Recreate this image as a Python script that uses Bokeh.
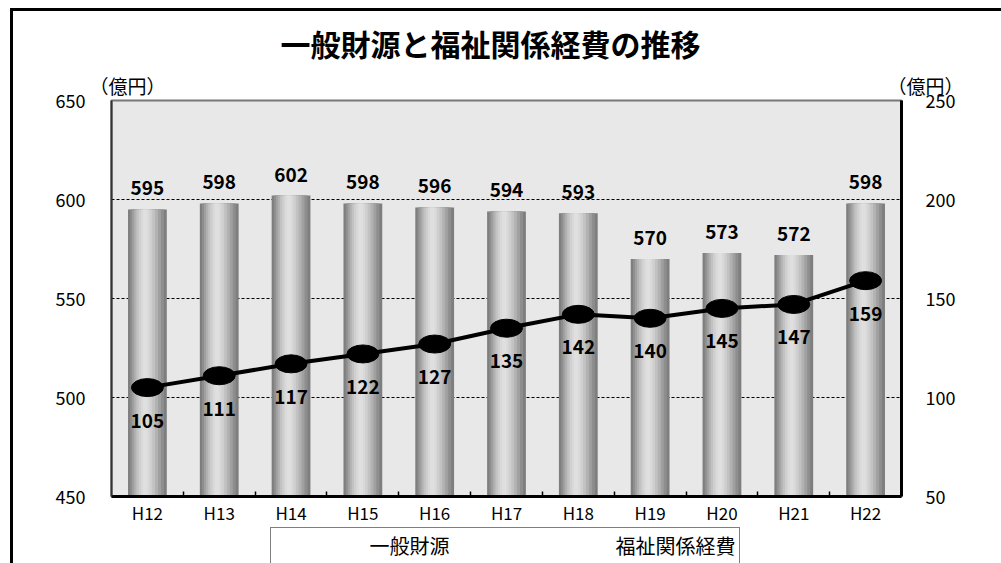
import numpy as np
from bokeh.plotting import figure
from bokeh.layouts import column
from bokeh.models import (ColumnDataSource, Range1d, LinearAxis, FixedTicker,
                          Title, Legend, LegendItem)
from bokeh.transform import dodge
from bokeh.core.properties import value
from bokeh.embed import file_html
from bokeh.resources import INLINE

# ---- data ----
years = ["H12", "H13", "H14", "H15", "H16", "H17", "H18", "H19", "H20", "H21", "H22"]
general = [595, 598, 602, 598, 596, 594, 593, 570, 573, 572, 598]      # 一般財源 (left axis)
welfare = [105, 111, 117, 122, 127, 135, 142, 140, 145, 147, 159]      # 福祉関係経費 (right axis)
left_ticks = [450, 500, 550, 600, 650]
right_ticks = [50, 100, 150, 200, 250]
grid_ticks = [500, 550, 600]
title_text = "一般財源と福祉関係経費の推移"
unit_text = "（億円）"
series_names = ["一般財源", "福祉関係経費"]

FONT = "Noto Sans CJK JP"

x = np.arange(len(years)) + 0.5
src = ColumnDataSource(dict(
    x=x, years=years, general=general, welfare=welfare,
    glab=[str(v) for v in general], wlab=[str(v) for v in welfare]))

p = figure(frame_width=787, frame_height=393,
           x_range=Range1d(0, len(years)),
           y_range=Range1d(left_ticks[0], left_ticks[-1]),
           output_backend="svg", toolbar_location=None,
           min_border_left=98, min_border_right=103,
           min_border_top=89, min_border_bottom=28,
           background_fill_color="#e8e8e8", border_fill_color="white")
p.title = None
p.margin = (8, 0, 0, 10)
p.styles = {"border-top": "3px solid black", "border-left": "3px solid black"}
p.extra_y_ranges = {"r": Range1d(right_ticks[0], right_ticks[-1])}

p.outline_line_color = "#777777"
p.outline_line_width = 2

# grid
p.xgrid.visible = False
p.ygrid.ticker = FixedTicker(ticks=grid_ticks)
p.ygrid.grid_line_color = "black"
p.ygrid.grid_line_dash = "3 2"
p.ygrid.grid_line_width = 1

# cylindrical bars (layered shading)
layers = [(0.54, "#7e7e7e", 0.0), (0.47, "#8e8e8e", -0.005), (0.40, "#a0a0a0", -0.012),
          (0.33, "#b2b2b2", -0.018), (0.26, "#c2c2c2", -0.024), (0.19, "#cfcfcf", -0.028),
          (0.12, "#d9d9d9", -0.03), (0.06, "#dfdfdf", -0.03)]
for w, c, off in layers:
    p.vbar(x=dodge("x", off), top="general", bottom=left_ticks[0], width=w,
           fill_color=c, line_color=None, source=src)

# line with elliptical markers
p.line("x", "welfare", y_range_name="r", line_width=4, color="black", source=src)
p.ellipse("x", "welfare", width=32, height=18, width_units="screen",
          height_units="screen", y_range_name="r", fill_color="black",
          line_color="black", source=src)

# value labels
p.text("x", "general", text="glab", source=src, text_align="center",
       text_baseline="middle", y_offset=-21, text_font=value(FONT),
       text_font_size="19px", text_font_style="bold", text_color="black")
p.text("x", "welfare", text="wlab", source=src, y_range_name="r", text_align="center",
       text_baseline="middle", y_offset=33, text_font=value(FONT),
       text_font_size="19px", text_font_style="bold", text_color="black")

# x axis
xa = p.xaxis[0]
xa.ticker = FixedTicker(ticks=list(x), minor_ticks=list(range(1, len(years))))
xa.major_label_overrides = {float(xi): yl for xi, yl in zip(x, years)}
xa.major_tick_line_color = None
xa.major_tick_in = 0
xa.major_tick_out = 0
xa.minor_tick_in = 5
xa.minor_tick_out = 0
xa.minor_tick_line_color = "black"
xa.minor_tick_line_width = 1.5
xa.axis_line_color = "black"
xa.axis_line_width = 3
xa.major_label_standoff = 3
xa.major_label_text_font = FONT
xa.major_label_text_font_size = "17px"
xa.major_label_text_color = "black"

# left axis
ya = p.yaxis[0]
ya.ticker = FixedTicker(ticks=left_ticks)
ya.axis_line_color = "#333333"
ya.axis_line_width = 2
ya.major_tick_line_color = None
ya.major_tick_in = 0
ya.major_tick_out = 0
ya.minor_tick_line_color = None
ya.minor_tick_out = 0
ya.major_label_standoff = 26
ya.major_label_text_font = FONT
ya.major_label_text_font_size = "18px"
ya.major_label_text_color = "black"

# right axis
ra = LinearAxis(y_range_name="r", ticker=FixedTicker(ticks=right_ticks))
ra.axis_line_color = "black"
ra.axis_line_width = 3
ra.major_tick_line_color = None
ra.major_tick_in = 0
ra.major_tick_out = 0
ra.minor_tick_line_color = None
ra.minor_tick_out = 0
ra.major_label_standoff = 24
ra.major_label_text_font = FONT
ra.major_label_text_font_size = "18px"
ra.major_label_text_color = "black"
p.add_layout(ra, "right")

# unit labels row (left and right axis units) and main title
gap = "\u3000" * 39
p.add_layout(Title(text=unit_text + gap + unit_text, align="left", offset=-22,
                   text_font=FONT, text_font_size="19px", text_font_style="normal",
                   text_color="black", standoff=3), "above")
p.add_layout(Title(text=title_text, align="left", offset=169,
                   text_font=FONT, text_font_size="30px", text_font_style="bold",
                   text_color="black", standoff=8), "above")

# ---- legend strip (separate small figure below the chart) ----
lg = figure(width=988, height=40, output_backend="svg", toolbar_location=None,
            x_axis_location=None, y_axis_location=None,
            min_border=0, border_fill_color="white", background_fill_color="white")
lg.title = None
lg.margin = (0, 0, 0, 10)
lg.styles = {"border-left": "3px solid black"}
lg.outline_line_color = None
lg.xgrid.visible = False
lg.ygrid.visible = False
empty = ColumnDataSource(dict(x=[], y=[]))
bar_key = lg.vbar(x="x", top="y", width=0.5, fill_color="#a8a8a8", line_color=None,
                  source=empty)
line_key = lg.line("x", "y", line_width=4, color="black", source=empty)
ell_key = lg.ellipse("x", "y", width=24, height=12, width_units="screen",
                     height_units="screen", fill_color="black", line_color="black",
                     source=empty)
legend = Legend(items=[LegendItem(label=series_names[0], renderers=[bar_key]),
                       LegendItem(label=series_names[1], renderers=[line_key, ell_key])],
                orientation="horizontal", location="top_center",
                label_text_font=FONT, label_text_font_size="20px",
                label_text_color="black",
                glyph_width=84, glyph_height=12, label_standoff=12, spacing=70,
                padding=3, margin=3, border_line_color="black", border_line_width=1.5,
                background_fill_color="white", background_fill_alpha=1)
lg.add_layout(legend)

open("out.html", "w").write(file_html(column(p, lg, spacing=0), INLINE))
